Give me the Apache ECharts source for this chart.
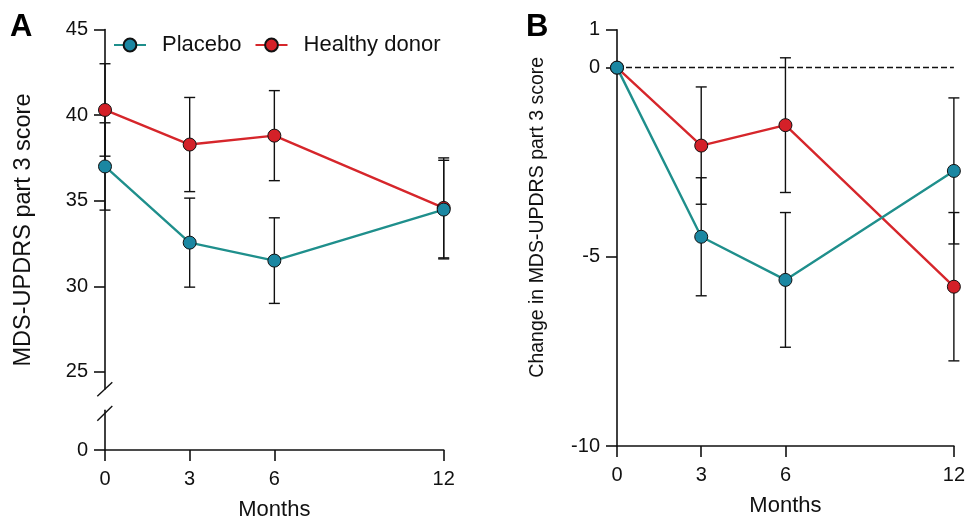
<!DOCTYPE html>
<html>
<head>
<meta charset="utf-8">
<script src="https://cdn.jsdelivr.net/npm/echarts@6/dist/echarts.min.js"></script>
<style>
html,body{margin:0;padding:0;background:#fff;}
#main{width:968px;height:522px;}
</style>
</head>
<body>
<div id="main"></div>
<script>
// ---- data ----
const months = [0, 3, 6, 12];
const xTickLabels = [0, 3, 6, 12];
const seriesNames = ['Placebo', 'Healthy donor'];

// Panel A: MDS-UPDRS part 3 score (mean, SEM)
const aPlaceboMean = [37.0, 32.55, 31.5, 34.48];
const aPlaceboErr  = [2.55, 2.6, 2.5, 2.88];
const aHealthyMean = [40.3, 38.28, 38.8, 34.58];
const aHealthyErr  = [2.7, 2.75, 2.63, 2.92];
const aUpperTicks = [25, 30, 35, 40, 45];
const aLowerTicks = [0];

// Panel B: change in MDS-UPDRS part 3 score (mean, SEM)
const bPlaceboMean = [0, -4.47, -5.61, -2.73];
const bPlaceboErr  = [0, 1.56, 1.78, 1.93];
const bHealthyMean = [0, -2.06, -1.52, -5.79];
const bHealthyErr  = [0, 1.55, 1.78, 1.96];
const bTicks = [1, 0, -5, -10];

// ---- styling ----
const FONT = '"Liberation Sans", Arial, sans-serif';
const AX = '#111';
const tealLine = '#1f8f8c', tealFill = '#1b87a2';
const redLine = '#d6262b', redFill = '#d42028';

function pts(mean) { return months.map((m, i) => [m, mean[i]]); }
function errs(mean, err) { return months.map((m, i) => [m, mean[i] - err[i], mean[i] + err[i]]); }

function errSeries(name, data, xi, yi) {
  return {
    type: 'custom', name: name + ' err', xAxisIndex: xi, yAxisIndex: yi, z: 1,
    silent: true, legendHoverLink: false,
    encode: { x: 0, y: [1, 2] },
    data: data.filter(d => d[2] - d[1] > 0),
    renderItem: function (params, api) {
      const x = api.value(0);
      const lo = api.coord([x, api.value(1)]);
      const hi = api.coord([x, api.value(2)]);
      const hw = 5.5;
      const st = { stroke: AX, lineWidth: 1.4, fill: null };
      return {
        type: 'group',
        children: [
          { type: 'line', shape: { x1: lo[0], y1: lo[1], x2: hi[0], y2: hi[1] }, style: st },
          { type: 'line', shape: { x1: lo[0] - hw, y1: lo[1], x2: lo[0] + hw, y2: lo[1] }, style: st },
          { type: 'line', shape: { x1: hi[0] - hw, y1: hi[1], x2: hi[0] + hw, y2: hi[1] }, style: st }
        ]
      };
    }
  };
}

function lineSeries(name, data, xi, yi, lc, fc, extra) {
  return Object.assign({
    type: 'line', name: name, xAxisIndex: xi, yAxisIndex: yi, z: 3,
    data: data, symbol: 'circle', symbolSize: 13,
    lineStyle: { color: lc, width: 2.4 },
    itemStyle: { color: fc, borderColor: '#111', borderWidth: 1 },
    animation: false
  }, extra || {});
}

const axisLineStyle = { show: true, onZero: false, lineStyle: { color: AX, width: 1.6 } };
const tickStyle = { lineStyle: { color: AX, width: 1.6 } };
const labelStyle = { color: '#111', fontSize: 20, fontFamily: FONT };

function xAxisDef(gi, show) {
  return {
    type: 'value', gridIndex: gi, min: 0, max: 12, show: show,
    axisLine: axisLineStyle,
    axisTick: Object.assign({ show: true, length: 11, customValues: xTickLabels }, tickStyle),
    axisLabel: Object.assign({ margin: 19, customValues: xTickLabels }, labelStyle),
    splitLine: { show: false },
    name: show ? 'Months' : '', nameLocation: 'middle', nameGap: 49,
    nameTextStyle: { color: '#111', fontSize: 22, fontFamily: FONT }
  };
}

const option = {
  backgroundColor: '#fff',
  animation: false,
  textStyle: { fontFamily: FONT },
  legend: {
    data: seriesNames,
    left: 108, top: 29,
    itemWidth: 32, itemHeight: 16, itemGap: 13,
    textStyle: { fontSize: 22, color: '#111', fontFamily: FONT, padding: [0, 0, 0, 11] },
    selectedMode: false
  },
  grid: [
    { left: 105, width: 338.7, top: 29.5, height: 359.5, containLabel: false },
    { left: 105, width: 338.7, top: 410.2, height: 42.8, containLabel: false },
    { left: 617, width: 340.7, top: 29.8, height: 423.9, containLabel: false }
  ],
  xAxis: [xAxisDef(0, false), xAxisDef(1, true), xAxisDef(2, true)],
  yAxis: [
    {
      type: 'value', gridIndex: 0, min: 24, max: 45,
      axisLine: axisLineStyle,
      axisTick: Object.assign({ show: true, length: 11, customValues: aUpperTicks }, tickStyle),
      axisLabel: Object.assign({ margin: 17, customValues: aUpperTicks }, labelStyle),
      splitLine: { show: false }
    },
    {
      type: 'value', gridIndex: 1, min: 0, max: 2.5,
      axisLine: axisLineStyle,
      axisTick: Object.assign({ show: true, length: 11, customValues: aLowerTicks }, tickStyle),
      axisLabel: Object.assign({ margin: 17, customValues: aLowerTicks }, labelStyle),
      splitLine: { show: false }
    },
    {
      type: 'value', gridIndex: 2, min: -10, max: 1,
      axisLine: axisLineStyle,
      axisTick: Object.assign({ show: true, length: 11, customValues: bTicks }, tickStyle),
      axisLabel: Object.assign({ margin: 17, customValues: bTicks }, labelStyle),
      splitLine: { show: false }
    }
  ],
  series: [
    errSeries('A Healthy donor', errs(aHealthyMean, aHealthyErr), 0, 0),
    errSeries('A Placebo', errs(aPlaceboMean, aPlaceboErr), 0, 0),
    lineSeries('Healthy donor', pts(aHealthyMean), 0, 0, redLine, redFill),
    lineSeries('Placebo', pts(aPlaceboMean), 0, 0, tealLine, tealFill),

    errSeries('B Healthy donor', errs(bHealthyMean, bHealthyErr), 2, 2),
    errSeries('B Placebo', errs(bPlaceboMean, bPlaceboErr), 2, 2),
    lineSeries('Healthy donor', pts(bHealthyMean), 2, 2, redLine, redFill, {
      markLine: {
        silent: true, symbol: 'none', z: 0,
        label: { show: false },
        lineStyle: { color: '#111', type: [6, 3], width: 1.3 },
        data: [{ yAxis: 0 }]
      }
    }),
    lineSeries('Placebo', pts(bPlaceboMean), 2, 2, tealLine, tealFill)
  ],
  graphic: [
    { type: 'text', left: 10, top: 12, style: { text: 'A', font: 'bold 31px ' + FONT, fill: '#000' } },
    { type: 'text', left: 526, top: 12, style: { text: 'B', font: 'bold 31px ' + FONT, fill: '#000' } },
    { type: 'text', x: 23.3, y: 230, rotation: Math.PI / 2,
      style: { text: 'MDS-UPDRS part 3 score', font: '23.5px ' + FONT, fill: '#111', textAlign: 'center', textVerticalAlign: 'middle' } },
    { type: 'text', x: 537.5, y: 217.3, rotation: Math.PI / 2,
      style: { text: 'Change in MDS-UPDRS part 3 score', font: '19.5px ' + FONT, fill: '#111', textAlign: 'center', textVerticalAlign: 'middle' } },
    // axis break marks
    { type: 'line', shape: { x1: 97.3, y1: 396.3, x2: 112.3, y2: 382.3 }, style: { stroke: AX, lineWidth: 1.4 } },
    { type: 'line', shape: { x1: 97.3, y1: 420.7, x2: 112.3, y2: 406 }, style: { stroke: AX, lineWidth: 1.4 } }
  ]
};

const chart = echarts.init(document.getElementById('main'), null, { renderer: 'canvas' });
chart.setOption(option);
</script>
</body>
</html>
